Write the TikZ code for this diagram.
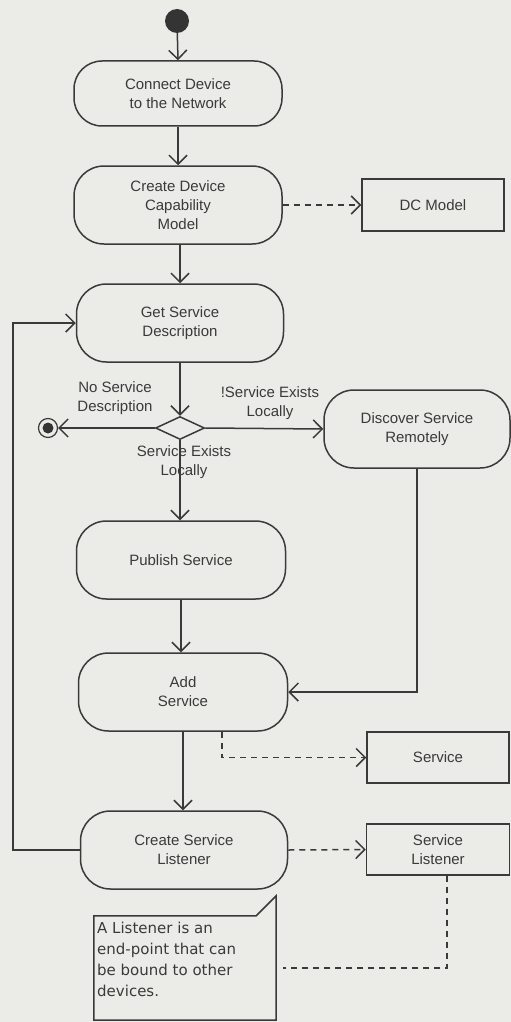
\documentclass[tikz,border=0pt]{standalone}
\usepackage{fontspec}
\setmainfont{Liberation Sans}
\newfontfamily\notefont{DejaVu Sans}
\usetikzlibrary{arrows.meta,shapes.geometric}
\definecolor{bg}{RGB}{235,235,232}
\definecolor{ink}{RGB}{58,58,58}
\begin{document}
\begin{tikzpicture}[x=1pt,y=-1pt,
  every node/.style={text=ink, font=\fontsize{15}{19}\selectfont},
  act/.style={draw=ink, line width=1.5pt, fill=bg, rounded corners=30pt, align=center, inner sep=0pt},
  obj/.style={draw=ink, line width=1.5pt, fill=bg, align=center, inner sep=0pt},
  lbl/.style={align=center, inner sep=0pt},
  arr/.style={draw=ink, line width=1.5pt, -{Straight Barb[length=9pt,width=18pt,line width=1.5pt]}},
  darr/.style={arr, dash pattern=on 6pt off 5pt},
  dline/.style={draw=ink, line width=1.5pt, dash pattern=on 6pt off 5pt}]
\useasboundingbox[fill=bg] (0,0) rectangle (511,1022);
% start
\node[circle, fill=ink!90!black, minimum size=24pt, inner sep=0pt] (start) at (177,21) {};
% activities
\node[act, minimum width=208pt, minimum height=65pt, rounded corners=28pt] (connect) at (178,93.5) {Connect Device\\to the Network};
\node[act, minimum width=208pt, minimum height=78pt] (create) at (178,205) {Create Device\\Capability\\Model};
\node[obj, minimum width=142pt, minimum height=52pt] (dc) at (433,205) {DC Model};
\node[act, minimum width=207pt, minimum height=78pt] (get) at (180,323) {Get Service\\Description};
\node[diamond, draw=ink, line width=1.5pt, fill=bg, minimum width=49pt, minimum height=23pt, inner sep=0pt] (dec) at (180,428) {};
\node[circle, draw=ink, line width=1.2pt, fill=bg, minimum size=19pt, inner sep=0pt] (final) at (48,428) {};
\node[circle, fill=ink!90!black, minimum size=11pt, inner sep=0pt] (finalin) at (48,428) {};
\node[act, minimum width=186pt, minimum height=78pt] (disc) at (417,429) {Discover Service\\Remotely};
\node[act, minimum width=209pt, minimum height=78pt] (pub) at (181,560) {Publish Service};
\node[act, minimum width=209pt, minimum height=78pt] (add) at (183,692) {Add\\Service};
\node[obj, minimum width=142pt, minimum height=51pt] (svc) at (438,757.5) {Service};
\node[act, minimum width=207pt, minimum height=78pt] (csl) at (184,850) {Create Service\\Listener};
\node[obj, minimum width=143pt, minimum height=51pt] (sl) at (438,849.5) {Service\\Listener};
% labels
\node[lbl] (l1) at (115,398.5) {No Service\\Description};
\node[lbl] (l2) at (270,403.5) {!Service Exists\\Locally};
\node[lbl] (l3) at (184,462.5) {Service Exists\\Locally};
% note
\node[inner sep=0pt, minimum width=182pt, minimum height=104pt] (note) at (185,968) {};
\draw[ink, line width=1.5pt, fill=bg] (note.north west) -- ([xshift=-20pt]note.north east) -- ([yshift=20pt]note.north east) -- (note.south east) -- (note.south west) -- cycle;
\node[anchor=north west, align=left, inner sep=0pt, font=\notefont\fontsize{15}{21}\selectfont] (notetext) at (97,922) {A Listener is an\\end-point that can\\be bound to other\\devices.};
% connectors
\draw[arr] (start) -- (connect.north);
\draw[arr] (connect.south) -- (create.north);
\draw[darr] (create.east) -- (dc.west);
\draw[arr] ([xshift=2pt]create.south) -- (get.north);
\draw[arr] (get.south) -- (dec.north);
\draw[arr] (dec.west) -- (final.east);
\draw[arr] (dec.east) -- (disc.west);
\draw[arr] (dec.south) -- (dec.south |- pub.north);
\draw[arr] (pub.south) -- (pub.south |- add.north);
\draw[arr] (disc.south) |- (add.east);
\draw[darr] ([xshift=39pt]add.south) |- (svc.west);
\draw[arr] (add.south) -- (add.south |- csl.north);
\draw[darr] (csl.east) -- (sl.west);
\coordinate (lp) at (13,600);
\draw[arr] (csl.west) -- (csl.west -| lp) |- (get.west);
\draw[dline] ([xshift=9pt]sl.south) |- ([xshift=7pt]note.east);
\end{tikzpicture}
\end{document}
